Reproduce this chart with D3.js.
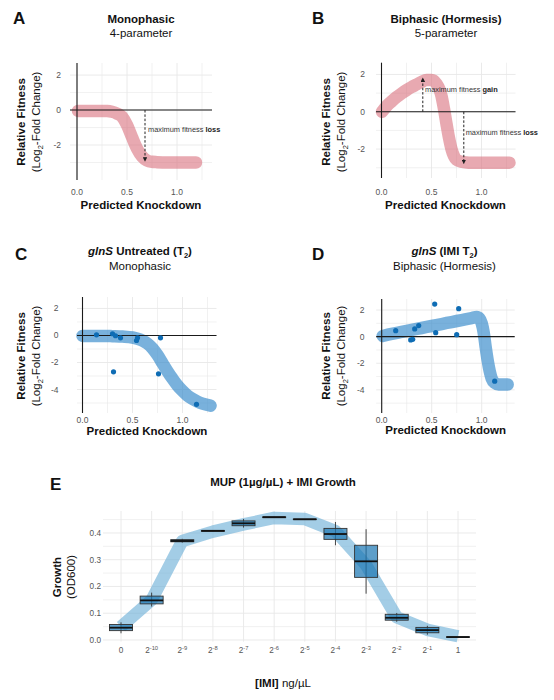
<!DOCTYPE html>
<html><head><meta charset="utf-8">
<script src="https://cdn.jsdelivr.net/npm/d3@7"></script>
<style>body{margin:0;background:#fff}svg{display:block;font-family:"Liberation Sans",Arial,sans-serif}</style>
</head><body><svg id="chart" width="554" height="700"></svg>
<script>
// ---------- DATA ----------
// Panel A: monophasic 4-parameter model curve
const curveAx = [0.01,0.1,0.2,0.3,0.35,0.4,0.45,0.5,0.55,0.6,0.65,0.7,0.75,0.8,0.9,1.0,1.1,1.19];
const curveAy = [-0.05,-0.05,-0.05,-0.06,-0.1,-0.2,-0.38,-0.85,-1.55,-2.2,-2.65,-2.88,-2.96,-2.98,-3.0,-3.0,-3.0,-3.0];
// Panel B: biphasic 5-parameter model curve
const curveBx = [0.005,0.05,0.1,0.15,0.2,0.25,0.3,0.35,0.4,0.45,0.5,0.55,0.58,0.6,0.625,0.65,0.675,0.7,0.725,0.75,0.8,0.85,0.9,1.0,1.1,1.2,1.28];
const curveBy = [0,0.3,0.55,0.78,0.98,1.16,1.32,1.46,1.6,1.7,1.7,1.5,1.2,0.85,0.15,-0.65,-1.4,-2.0,-2.38,-2.57,-2.68,-2.72,-2.73,-2.73,-2.73,-2.73,-2.73];
// Panel C: glnS untreated fit + observations
const curveCx = [0,0.1,0.2,0.3,0.4,0.5,0.55,0.6,0.65,0.7,0.75,0.8,0.85,0.9,0.95,1.0,1.05,1.1,1.15,1.2,1.28];
const curveCy = [-0.03,-0.03,-0.03,-0.05,-0.08,-0.15,-0.24,-0.38,-0.6,-0.95,-1.45,-2.05,-2.65,-3.2,-3.7,-4.1,-4.45,-4.7,-4.9,-5.05,-5.2];
const pointsCx = [0.14,0.30,0.33,0.38,0.54,0.55,0.78,0.31,0.76,1.14];
const pointsCy = [0.05,0.13,-0.02,-0.17,-0.37,-0.17,-0.17,-2.69,-2.84,-5.1];
// Panel D: glnS IMI fit + observations
const curveDx = [0.01,0.1,0.2,0.3,0.4,0.5,0.6,0.7,0.8,0.9,0.95,0.98,1.0,1.02,1.04,1.06,1.08,1.1,1.13,1.17,1.26];
const curveDy = [0.05,0.2,0.35,0.5,0.65,0.8,0.95,1.1,1.25,1.4,1.47,1.35,1.0,0.3,-0.8,-1.8,-2.6,-3.15,-3.48,-3.6,-3.6];
const pointsDx = [0.14,0.29,0.31,0.33,0.37,0.53,0.54,0.75,0.77,1.13];
const pointsDy = [0.45,-0.25,-0.2,0.58,0.83,2.45,0.3,0.15,2.1,-3.35];
// Panel E: MUP + IMI growth boxplots
const concExp = ["0","-10","-9","-8","-7","-6","-5","-4","-3","-2","-1","1"];
const boxMed = [0.046,0.148,0.370,0.408,0.436,0.459,0.451,0.396,0.294,0.083,0.037,0.011];
const boxQ1  = [0.035,0.135,0.367,0.406,0.427,0.457,0.450,0.376,0.234,0.074,0.027,0.010];
const boxQ3  = [0.058,0.164,0.375,0.409,0.445,0.460,0.452,0.417,0.354,0.096,0.047,0.012];
const boxLo  = [0.025,0.125,0.364,0.406,0.420,0.457,0.450,0.354,0.173,0.068,0.020,0.010];
const boxHi  = [0.066,0.177,0.378,0.409,0.452,0.460,0.452,0.441,0.414,0.101,0.053,0.012];
const bandE  = [0.05,0.15,0.37,0.405,0.432,0.456,0.452,0.407,0.28,0.085,0.038,0.014];
const xTicksFit = [0,0.5,1.0];
const yTicksE = [0,0.1,0.2,0.3,0.4];

// ---------- DRAW ----------
const svg = d3.select("#chart");
const defs = svg.append("defs");
defs.append("marker").attr("id","arr").attr("viewBox","0 0 6 6").attr("refX",5).attr("refY",3)
  .attr("markerWidth",4.5).attr("markerHeight",4.5).attr("markerUnits","userSpaceOnUse").attr("orient","auto")
  .append("path").attr("d","M0,0 L6,3 L0,6 z").attr("fill","#222");

const GRID="#e8e8e8", TICK="#555";

function fitPanel(c){
  const g = svg.append("g");
  const x = d3.scaleLinear().domain(c.xd).range(c.xr);
  const y = d3.scaleLinear().domain(c.yd).range(c.yr);
  const [x0,x1]=c.xr, [y0,y1]=c.yr;
  const xMinor=[0.25,0.75,1.25];
  g.selectAll(".vg").data(xTicksFit.concat(xMinor)).join("line")
    .attr("x1",d=>x(d)).attr("x2",d=>x(d)).attr("y1",y1).attr("y2",y0)
    .attr("stroke",GRID).attr("stroke-width",d=>xMinor.includes(d)?0.6:0.9);
  g.selectAll(".hg").data(c.yt.concat(c.ym)).join("line")
    .attr("x1",x0).attr("x2",x1).attr("y1",d=>y(d)).attr("y2",d=>y(d))
    .attr("stroke",GRID).attr("stroke-width",d=>c.ym.includes(d)?0.6:0.9);
  const line = d3.line().x(d=>x(d[0])).y(d=>y(d[1])).curve(d3.curveMonotoneX);
  g.append("path").attr("d",line(c.cx.map((v,i)=>[v,c.cy[i]])))
    .attr("fill","none").attr("stroke",c.col).attr("stroke-opacity",c.op)
    .attr("stroke-width",12.5).attr("stroke-linecap","round").attr("stroke-linejoin","round");
  g.append("line").attr("x1",x(0)).attr("x2",x(0)).attr("y1",y1).attr("y2",y0).attr("stroke","#1a1a1a").attr("stroke-width",1.1);
  g.append("line").attr("x1",x0).attr("x2",x1).attr("y1",y(0)).attr("y2",y(0)).attr("stroke","#1a1a1a").attr("stroke-width",1.1);
  if(c.px){
    g.selectAll(".pt").data(c.px.map((v,i)=>[v,c.py[i]])).join("circle")
      .attr("cx",d=>x(d[0])).attr("cy",d=>y(d[1])).attr("r",2.6).attr("fill","#0e6cb4");
  }
  (c.arrows||[]).forEach(a=>{
    g.append("line").attr("x1",x(a.x)).attr("x2",x(a.x)).attr("y1",y(0)).attr("y2",y(a.to))
      .attr("stroke","#222").attr("stroke-width",1).attr("stroke-dasharray","2.5,1.8").attr("marker-end","url(#arr)");
    const t=g.append("text").attr("x",x(a.lx)).attr("y",y(a.ly)).attr("font-size",7.4).attr("fill","#333");
    t.append("tspan").text("maximum fitness ");
    t.append("tspan").attr("font-weight","bold").attr("fill","#222").text(a.word);
  });
  g.selectAll(".xl").data(xTicksFit).join("text").attr("x",d=>x(d)).attr("y",c.xlY)
    .attr("text-anchor","middle").attr("font-size",8.5).attr("fill",TICK).text(d=>d.toFixed(1));
  g.selectAll(".yl").data(c.yt).join("text").attr("x",c.ylX).attr("y",d=>y(d)+3)
    .attr("text-anchor","end").attr("font-size",8.5).attr("fill",TICK).text(d=>d);
  g.append("text").attr("x",c.xtX).attr("y",c.xtY).attr("text-anchor","middle")
    .attr("font-size",11.5).attr("font-weight","bold").attr("fill","#111").text("Predicted Knockdown");
  const cy=c.ytY;
  g.append("text").attr("transform",`translate(${c.yt1},${cy}) rotate(-90)`).attr("text-anchor","middle")
    .attr("font-size",11.5).attr("font-weight","bold").attr("fill","#111").text("Relative Fitness");
  const t2=g.append("text").attr("transform",`translate(${c.yt2},${cy}) rotate(-90)`).attr("text-anchor","middle")
    .attr("font-size",11.5).attr("fill","#111");
  t2.append("tspan").text("(Log");
  t2.append("tspan").attr("font-size",7.5).attr("dy",3).text("2");
  t2.append("tspan").attr("dy",-3).text("-Fold Change)");
  g.append("text").attr("x",c.lx).attr("y",c.ly).attr("font-size",17).attr("font-weight","bold").attr("fill","#111").text(c.letter);
  return g;
}

function title2(cx,y1,y2,first,second){
  const t=svg.append("text").attr("x",cx).attr("y",y1).attr("text-anchor","middle").attr("font-size",11.5).attr("font-weight","bold").attr("fill","#111");
  first(t);
  svg.append("text").attr("x",cx).attr("y",y2).attr("text-anchor","middle").attr("font-size",11.5).attr("fill","#111").text(second);
}

const PINK="#d9707d", BLUE="#3a8ccb";

fitPanel({xd:[-0.07,1.35],xr:[70,212],yd:[-4.0,2.69],yr:[180,63],yt:[-2,0,2],ym:[-3,-1,1],
  cx:curveAx,cy:curveAy,col:PINK,op:0.6,
  arrows:[{x:0.68,to:-2.92,lx:0.71,ly:-1.27,word:"loss"}],
  xlY:195,ylX:61,xtX:141,xtY:209,ytY:122,yt1:25,yt2:39.5,lx:13,ly:24,letter:"A"});
title2(141,23,37,t=>t.text("Monophasic"),"4-parameter");

fitPanel({xd:[-0.055,1.34],xr:[376,515.5],yd:[-3.55,2.63],yr:[178,62.7],yt:[-2,0,2],ym:[-3,-1,1],
  cx:curveBx,cy:curveBy,col:PINK,op:0.6,
  arrows:[{x:0.413,to:1.8,lx:0.435,ly:1.07,word:"gain"},{x:0.823,to:-2.77,lx:0.842,ly:-1.25,word:"loss"}],
  xlY:195,ylX:365,xtX:445.5,xtY:209,ytY:122,yt1:330,yt2:344.5,lx:312,ly:24,letter:"B"});
title2(446,23,37,t=>t.text("Biphasic (Hormesis)"),"5-parameter");

fitPanel({xd:[-0.055,1.34],xr:[77,216.5],yd:[-5.74,2.85],yr:[413,297],yt:[-4,-2,0,2],ym:[-5,-3,-1,1],
  cx:curveCx,cy:curveCy,col:BLUE,op:0.68,px:pointsCx,py:pointsCy,
  xlY:423,ylX:58.5,xtX:147,xtY:435,ytY:356,yt1:25,yt2:39.5,lx:15,ly:260,letter:"C"});
title2(140,255,270,t=>{
  t.append("tspan").attr("font-style","italic").text("glnS");
  t.append("tspan").text(" Untreated (T");
  t.append("tspan").attr("font-size",7.5).attr("dy",3).text("2");
  t.append("tspan").attr("dy",-3).text(")");
},"Monophasic");

fitPanel({xd:[-0.055,1.33],xr:[376.2,514.7],yd:[-5.74,2.83],yr:[413,299],yt:[-4,-2,0,2],ym:[-5,-3,-1,1],
  cx:curveDx,cy:curveDy,col:BLUE,op:0.68,px:pointsDx,py:pointsDy,
  xlY:423,ylX:364.5,xtX:445.7,xtY:434,ytY:356,yt1:330,yt2:344.5,lx:312,ly:260,letter:"D"});
title2(444.5,255,270,t=>{
  t.append("tspan").attr("font-style","italic").text("glnS");
  t.append("tspan").text(" (IMI T");
  t.append("tspan").attr("font-size",7.5).attr("dy",3).text("2");
  t.append("tspan").attr("dy",-3).text(")");
},"Biphasic (Hormesis)");

// ---------- Panel E ----------
(function(){
  const g=svg.append("g");
  const x=d3.scalePoint().domain(concExp).range([121,458]);
  const y=d3.scaleLinear().domain([-0.006,0.482]).range([641.6,511]);
  const gx0=103,gx1=476;
  const minor=[0.05,0.15,0.25,0.35,0.45];
  g.selectAll(".hg").data(yTicksE.concat(minor)).join("line")
    .attr("x1",gx0).attr("x2",gx1).attr("y1",d=>y(d)).attr("y2",d=>y(d))
    .attr("stroke",GRID).attr("stroke-width",d=>minor.includes(d)?0.6:0.9);
  g.selectAll(".vg").data(concExp).join("line")
    .attr("x1",d=>x(d)).attr("x2",d=>x(d)).attr("y1",511).attr("y2",641.6)
    .attr("stroke",GRID).attr("stroke-width",0.9);
  const line=d3.line().x(d=>x(d[0])).y(d=>y(d[1])).curve(d3.curveLinear);
  g.append("path").attr("d",line(concExp.map((c,i)=>[c,bandE[i]])))
    .attr("fill","none").attr("stroke","#6baed6").attr("stroke-opacity",0.62)
    .attr("stroke-width",12.5).attr("stroke-linecap","butt").attr("stroke-linejoin","round");
  const bw=23;
  concExp.forEach((c,i)=>{
    const cxp=x(c);
    g.append("line").attr("x1",cxp).attr("x2",cxp).attr("y1",y(boxHi[i])).attr("y2",y(boxLo[i]))
      .attr("stroke","#333").attr("stroke-width",0.9);
    g.append("rect").attr("x",cxp-bw/2).attr("width",bw).attr("y",y(boxQ3[i]))
      .attr("height",Math.max(0.5,y(boxQ1[i])-y(boxQ3[i])))
      .attr("fill","#1f78b4").attr("fill-opacity",0.72).attr("stroke","#333").attr("stroke-width",0.9);
    g.append("line").attr("x1",cxp-bw/2).attr("x2",cxp+bw/2).attr("y1",y(boxMed[i])).attr("y2",y(boxMed[i]))
      .attr("stroke","#111").attr("stroke-width",1.8);
  });
  g.selectAll(".yl").data(yTicksE).join("text").attr("x",101).attr("y",d=>y(d)+3)
    .attr("text-anchor","end").attr("font-size",8.2).attr("fill",TICK).text(d=>d.toFixed(1));
  concExp.forEach(c=>{
    const t=g.append("text").attr("x",x(c)).attr("y",653).attr("text-anchor","middle").attr("font-size",8.2).attr("fill",TICK);
    if(c==="0"||c==="1"){t.text(c);}
    else{t.append("tspan").text("2");t.append("tspan").attr("font-size",5.8).attr("dy",-3.5).text(c);}
  });
  svg.append("text").attr("x",283).attr("y",486).attr("text-anchor","middle").attr("font-size",11.5)
    .attr("font-weight","bold").attr("fill","#111").text("MUP (1µg/µL) + IMI Growth");
  svg.append("text").attr("x",50).attr("y",490).attr("font-size",17).attr("font-weight","bold").attr("fill","#111").text("E");
  svg.append("text").attr("transform","translate(61,577) rotate(-90)").attr("text-anchor","middle")
    .attr("font-size",11.5).attr("font-weight","bold").attr("fill","#111").text("Growth");
  svg.append("text").attr("transform","translate(75,577) rotate(-90)").attr("text-anchor","middle")
    .attr("font-size",11.5).attr("fill","#111").text("(OD600)");
  const xt=svg.append("text").attr("x",283).attr("y",687).attr("text-anchor","middle").attr("font-size",11.5).attr("fill","#111");
  xt.append("tspan").attr("font-weight","bold").text("[IMI]");
  xt.append("tspan").text(" ng/µL");
})();
</script></body></html>
